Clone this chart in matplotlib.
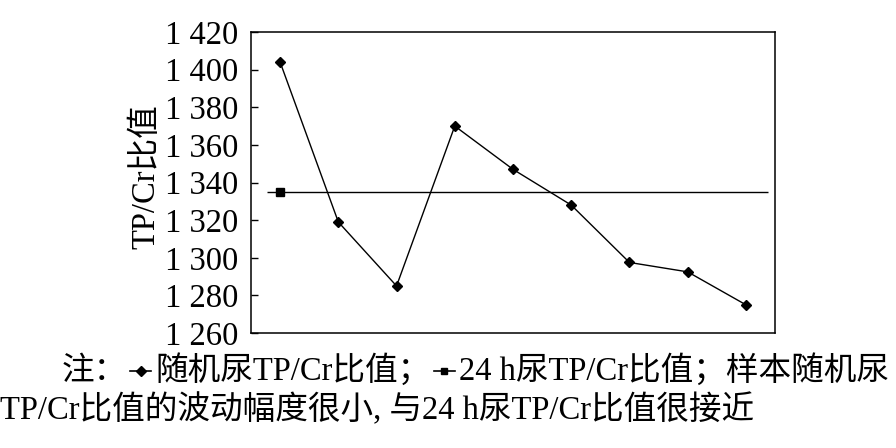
import matplotlib
matplotlib.use('Agg')
import matplotlib.pyplot as plt
from matplotlib.lines import Line2D
from matplotlib.ticker import FuncFormatter

# 数据
samples = [1, 2, 3, 4, 5, 6, 7, 8, 9]
random_ratio = [1404, 1319, 1285, 1370, 1347, 1328, 1297.5, 1292.5, 1275]
ratio_24h = 1335
line_24h_span = (0.77, 9.38)

fonts = ['Liberation Serif', 'Noto Sans CJK SC']
plt.rcParams['font.family'] = fonts

W, H = 896, 448
fig = plt.figure(figsize=(W / 100, H / 100), dpi=100)
ax = fig.add_axes([251 / W, 1 - 333 / H, 524 / W, 301 / H])

# 随机尿
ax.plot(samples, random_ratio, color='black', lw=1.0, marker='D', ms=5)
# 24 h 尿
ax.hlines(ratio_24h, *line_24h_span, color='black', lw=1.0)
ax.plot(samples[0], ratio_24h, color='black', marker='s', ms=6, ls='none')

ax.set_xlim(0.5, 9.5)
ax.set_ylim(1260, 1420)
ax.set_yticks(range(1260, 1421, 20))
ax.yaxis.set_major_formatter(FuncFormatter(lambda v, p: f'{int(v) // 1000} {int(v) % 1000:03d}'))
ax.set_xticks([])
ax.tick_params(axis='y', direction='in', length=5, width=1, labelsize=23.5, pad=9)
for s in ax.spines.values():
    s.set_linewidth(1.1)

ax.set_ylabel('TP/Cr比值', fontsize=23.5)
ax.yaxis.set_label_coords(-0.17, 0.52)

# 注释文字
fig.canvas.draw()
r = fig.canvas.get_renderer()
fs = 23.5


def draw_line(pieces, x, y):
    for p in pieces:
        if isinstance(p, str):
            t = fig.text(x / W, 1 - y / H, p, fontsize=fs, va='baseline', ha='left')
            x += t.get_window_extent(r).width
        else:
            w = 24
            ym = 1 - (y - 9) / H
            fig.add_artist(Line2D([(x + 3) / W, (x + w) / W], [ym, ym],
                                  color='black', lw=1.2, transform=fig.transFigure))
            fig.add_artist(Line2D([(x + 3 + w / 2 - 1.5) / W], [ym],
                                  color='black', marker=p[0], ms=5, transform=fig.transFigure))
            x += w + 4


draw_line(['注：', ('D',), '随机尿TP/Cr比值；', ('s',), '24 h尿TP/Cr比值；样本随机尿'], 62, 380)
draw_line(['TP/Cr比值的波动幅度很小, 与24 h尿TP/Cr比值很接近'], 0, 419)

fig.savefig('out.png', dpi=100)
